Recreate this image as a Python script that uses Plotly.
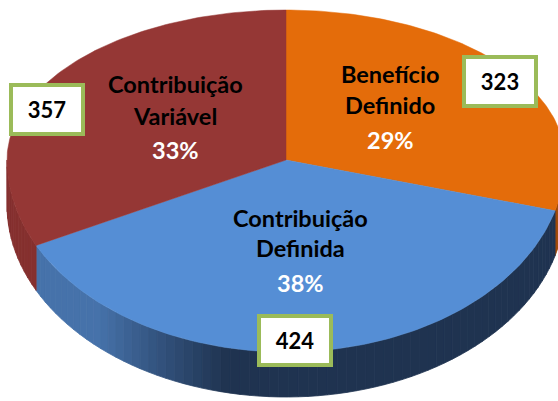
import numpy as np
import plotly.graph_objects as go

# ---- data ----
categories = ["Benefício<br>Definido", "Contribuição<br>Definida", "Contribuição<br>Variável"]
values = [323, 424, 357]
pct_labels = ["29%", "38%", "33%"]
count_labels = ["323", "424", "357"]
top_colors = ["#E46C0A", "#558ED5", "#953735"]

# ---- geometry (pixel space) ----
W, H = 558, 401
CX, CY = 286, 160
RX, RY_BACK, RY_FRONT = 279, 150, 192
DEPTH = 45

def pt(theta_deg, z=0.0):
    t = np.radians(theta_deg)
    s = np.sin(t)
    ry = np.where(s > 0, RY_BACK, RY_FRONT)
    return CX + RX * np.cos(t), CY - ry * s + z

total = float(sum(values))
spans = [v / total * 360.0 for v in values]
starts, ends = [], []
a = 90.0
for s in spans:
    starts.append(a)
    ends.append(a - s)
    a -= s

fig = go.Figure()

def hex_to_rgb(h):
    h = h.lstrip("#")
    return tuple(int(h[i:i + 2], 16) for i in (0, 2, 4))

def mix(c1, c2, f):
    a1, a2 = hex_to_rgb(c1), hex_to_rgb(c2)
    r = [round(a1[i] + (a2[i] - a1[i]) * f) for i in range(3)]
    return "rgb(%d,%d,%d)" % tuple(r)

side_light = {0: "#C45A08", 1: "#4672AA", 2: "#85302E"}
side_dark = {0: "#A04806", 1: "#1F3350", 2: "#6E2624"}

# ---- sides (front-facing arcs only) ----
for i in range(len(values)):
    lo, hi = ends[i], starts[i]
    for off in (-360, 0, 360):
        f_lo, f_hi = 180 + off, 360 + off
        a_lo, a_hi = max(lo, f_lo), min(hi, f_hi)
        if a_hi - a_lo <= 0:
            continue
        n = max(2, int((a_hi - a_lo) / 2))
        edges = np.linspace(a_lo, a_hi, n + 1)
        for k in range(n):
            th = np.linspace(edges[k], edges[k + 1], 6)
            xt, yt = pt(th)
            xb, yb = pt(th[::-1], DEPTH)
            mid = (edges[k] + edges[k + 1]) / 2 - off
            f = np.clip((mid - 228) / 30.0, 0, 1)
            col = mix(side_light[i], side_dark[i], f)
            fig.add_trace(go.Scatter(
                x=np.concatenate([xt, xb, xt[:1]]),
                y=np.concatenate([yt, yb, yt[:1]]),
                fill="toself", fillcolor=col, mode="lines",
                line=dict(color=col, width=0.8), hoverinfo="skip",
                showlegend=False))

# ---- top faces ----
for i in range(len(values)):
    th = np.linspace(starts[i], ends[i], 120)
    xa, ya = pt(th)
    xs = np.concatenate([[CX], xa, [CX]])
    ys = np.concatenate([[CY], ya, [CY]])
    fig.add_trace(go.Scatter(
        x=xs, y=ys, fill="toself", fillcolor=top_colors[i], mode="lines",
        line=dict(color=top_colors[i], width=0.5), hoverinfo="skip",
        showlegend=False))

# ---- text labels ----
FONT = "Lato"
label_x = [390, 300, 175]
label_y = [(74, 105, 140), (218, 248, 283), (84, 116, 150)]
for i in range(len(values)):
    lines = categories[i].split("<br>")
    for j, ln in enumerate(lines):
        fig.add_annotation(x=label_x[i], y=label_y[i][j], text="<b>%s</b>" % ln,
                           showarrow=False,
                           font=dict(family=FONT, size=23.5, color="black"))
    fig.add_annotation(x=label_x[i], y=label_y[i][2], text="<b>%s</b>" % pct_labels[i],
                       showarrow=False, font=dict(family=FONT, size=23.5, color="white"))

box_pos = [(499.5, 81), (295, 340.5), (46.5, 109)]
for i in range(len(values)):
    bx, by = box_pos[i]
    fig.add_annotation(x=bx, y=by, text="<b>%s</b>" % count_labels[i], showarrow=False,
                       font=dict(family=FONT, size=22, color="black"),
                       bgcolor="white", bordercolor="#9BBB59", borderwidth=4,
                       borderpad=0, width=68, height=45)

fig.update_layout(
    width=W, height=H, margin=dict(l=0, r=0, t=0, b=0),
    paper_bgcolor="white", plot_bgcolor="white",
    xaxis=dict(range=[0, W], visible=False, fixedrange=True),
    yaxis=dict(range=[H, 0], visible=False, fixedrange=True),
    showlegend=False,
)
fig.write_html("out.html", config={"displayModeBar": False},
               post_script="document.body.style.margin='0px';document.body.style.overflow='hidden';")
